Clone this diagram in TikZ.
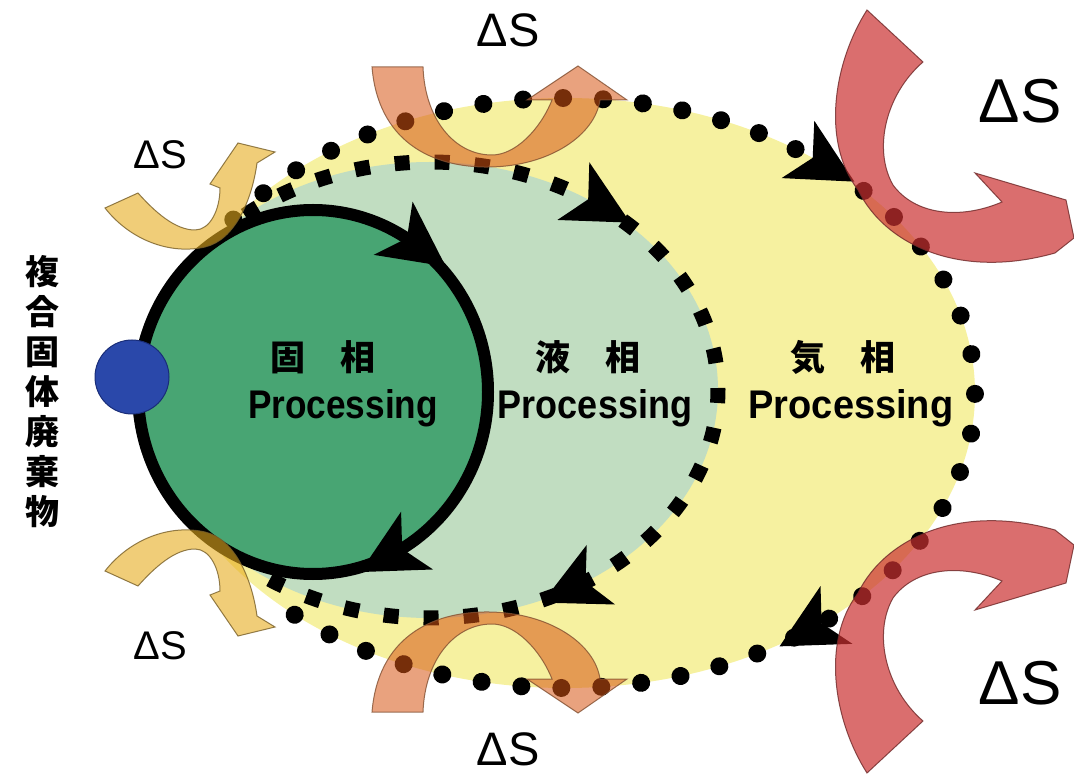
\documentclass[tikz,border=0pt]{standalone}
\usepackage{fontspec}
\setmainfont{Liberation Sans}
\newfontfamily\jp{Noto Sans CJK JP}
\definecolor{gasY}{RGB}{246,241,160}
\definecolor{liqG}{RGB}{193,221,193}
\definecolor{solG}{RGB}{72,165,115}
\definecolor{wasteB}{RGB}{42,72,170}
\definecolor{wasteBd}{RGB}{25,45,120}
\definecolor{arrY}{RGB}{230,172,30}
\definecolor{arrYd}{RGB}{120,95,40}
\definecolor{arrO}{RGB}{215,85,20}
\definecolor{arrOd}{RGB}{130,80,50}
\definecolor{arrR}{RGB}{203,49,49}
\definecolor{arrRd}{RGB}{110,40,40}
\newcommand\phmark[5]{%
  \pgfmathsetmacro\mkx{#1+#3*cos(#5)}%
  \pgfmathsetmacro\mky{#2+#4*sin(#5)}%
  \pgfmathsetmacro\mka{atan2(#4*cos(#5),-#3*sin(#5))}%
  \fill[black,shift={(\mkx,\mky)},rotate=-\mka] (40,0) -- (-25,33) -- (-8,0) -- (-25,-33) -- cycle;}
\tikzset{
  gasdots/.style={line width=18pt, line cap=round, dash pattern=on 0.01pt off 40pt},
  liqdash/.style={line width=15pt, dash pattern=on 15pt off 25pt},
  ringline/.style={line width=12pt},
  fatY/.style={fill=arrY, fill opacity=0.6, draw=arrYd, draw opacity=0.8, line width=1pt},
  fatO/.style={fill=arrO, fill opacity=0.55, draw=arrOd, draw opacity=0.8, line width=1pt},
  fatR/.style={fill=arrR, fill opacity=0.7, draw=arrRd, draw opacity=0.8, line width=1pt},
  dslabel/.style={font=\fontsize{#1}{#1}\selectfont, inner sep=0},
  jplabel/.style={font=\jp\bfseries\fontsize{35}{40}\selectfont, inner sep=0},
  proclabel/.style={font=\bfseries\fontsize{40}{44}\selectfont, inner sep=0}
}
\begin{document}
\begin{tikzpicture}[x=1pt,y=-1pt]
\useasboundingbox (0,0) rectangle (1074,775);
\clip (0,0) rectangle (1074,775);
% phase regions
\fill[gasY] (565,393) ellipse [x radius=410, y radius=295];
\fill[liqG] (430,390) ellipse [x radius=288, y radius=228];
\fill[solG] (313,392) ellipse [x radius=175, y radius=182];
% gas cycle (dots)
\draw[gasdots] plot[domain=-144:136, samples=240, variable=\t] ({565+410*cos(\t)},{393+295*sin(\t)});
\phmark{565}{393}{410}{295}{-51.6}
\phmark{565}{393}{410}{295}{52.5}
% liquid cycle (squares)
\draw[liqdash] plot[domain=-130:126, samples=200, variable=\t] ({430+288*cos(\t)},{390+228*sin(\t)});
\phmark{430}{390}{288}{228}{-55}
\phmark{430}{390}{288}{228}{59}
% solid cycle
\draw[ringline] (313,392) ellipse [x radius=175, y radius=182];
\phmark{313}{392}{175}{182}{-55}
\phmark{313}{392}{175}{182}{62}
% waste
\filldraw[fill=wasteB, draw=wasteBd, line width=1pt] (132,377) circle [radius=37];
% entropy arrows: top-middle and bottom-middle
\filldraw[fatO] (372,67) .. controls (378,140) and (430,168) .. (490,167) .. controls (550,166) and (595,135) .. (600,100) -- (627,100) -- (578,66) -- (527,100) -- (552,100) .. controls (540,130) and (515,155) .. (492,155) .. controls (455,155) and (425,120) .. (423,67) -- cycle;
\begin{scope}[shift={(0,779)}, yscale=-1]
\filldraw[fatO] (372,67) .. controls (378,140) and (430,168) .. (490,167) .. controls (550,166) and (595,135) .. (600,100) -- (627,100) -- (578,66) -- (527,100) -- (552,100) .. controls (540,130) and (515,155) .. (492,155) .. controls (455,155) and (425,120) .. (423,67) -- cycle;
\end{scope}
% right arrows
\filldraw[fatR] (867,10) .. controls (835,60) and (820,140) .. (858,190) .. controls (885,245) and (960,280) .. (1055,253) -- (1074,238) -- (1066,200) -- (975,173) -- (1002,202) .. controls (960,220) and (915,215) .. (893,185) .. controls (873,150) and (885,95) .. (923,62) -- cycle;
\begin{scope}[shift={(0,783)}, yscale=-1]
\filldraw[fatR] (867,10) .. controls (835,60) and (820,140) .. (858,190) .. controls (885,245) and (960,280) .. (1055,253) -- (1074,238) -- (1066,200) -- (975,173) -- (1002,202) .. controls (960,220) and (915,215) .. (893,185) .. controls (873,150) and (885,95) .. (923,62) -- cycle;
\end{scope}
% left arrows
\filldraw[fatY] (105,208) .. controls (130,240) and (170,255) .. (205,247) .. controls (235,240) and (252,200) .. (257,163) -- (275,152) -- (238,143) -- (210,184) -- (220,188) .. controls (220,210) and (210,230) .. (195,230) .. controls (175,230) and (155,212) .. (138,193) -- cycle;
\begin{scope}[shift={(0,779)}, yscale=-1]
\filldraw[fatY] (105,208) .. controls (130,240) and (170,255) .. (205,247) .. controls (235,240) and (252,200) .. (257,163) -- (275,152) -- (238,143) -- (210,184) -- (220,188) .. controls (220,210) and (210,230) .. (195,230) .. controls (175,230) and (155,212) .. (138,193) -- cycle;
\end{scope}
% labels
\node[dslabel=47] (dsTop) at (508,30) {ΔS};
\node[dslabel=47] (dsBot) at (508,749) {ΔS};
\node[dslabel=40] (dsTL) at (160,155) {ΔS};
\node[dslabel=40] (dsBL) at (160,646) {ΔS};
\node[dslabel=62] (dsTR) at (1020,101) {ΔS};
\node[dslabel=62] (dsBR) at (1020,683) {ΔS};
\node[font=\jp\bfseries\fontsize{34}{40}\selectfont, align=center, inner sep=0] (waste) at (42,392) {複\\合\\固\\体\\廃\\棄\\物};
\node[jplabel] (solidJ) at (323,357) {固\hspace{1em}相};
\node[jplabel] (liquidJ) at (588,357) {液\hspace{1em}相};
\node[jplabel] (gasJ) at (843,357) {気\hspace{1em}相};
\node[proclabel] (solidP) at (343,408) {\scalebox{0.88}[1]{Processing}};
\node[proclabel] (liquidP) at (595,408) {\scalebox{0.9}[1]{Processing}};
\node[proclabel] (gasP) at (851,408) {\scalebox{0.95}[1]{Processing}};
\end{tikzpicture}
\end{document}
